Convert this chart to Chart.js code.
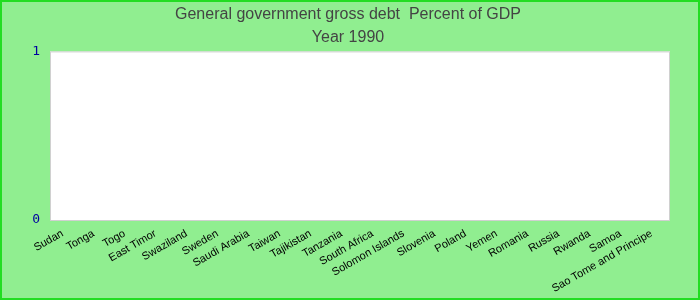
<!DOCTYPE html>
<html>
<head>
<meta charset="utf-8">
<script src="https://cdn.jsdelivr.net/npm/chart.js@4/dist/chart.umd.min.js"></script>
<style>
  html, body { margin: 0; padding: 0; background: #90ee90; }
  #wrap { width: 700px; height: 300px; }
</style>
</head>
<body>
<div id="wrap"><canvas id="debtChart" width="700" height="300"></canvas></div>
<script>
// categories in the order they appear on the x axis
const countries = [
  'Sudan', 'Tonga', 'Togo', 'East Timor', 'Swaziland', 'Sweden', 'Saudi Arabia',
  'Taiwan', 'Tajikistan', 'Tanzania', 'South Africa', 'Solomon Islands', 'Slovenia',
  'Poland', 'Yemen', 'Romania', 'Russia', 'Rwanda', 'Samoa', 'Sao Tome and Principe'
];
// no values reported for 1990 — every bar is empty
const debt1990 = [
  null, null, null, null, null, null, null, null, null, null,
  null, null, null, null, null, null, null, null, null, null
];
const yTicks = [0, 1];

const titleLines = ['General government gross debt  Percent of GDP', 'Year 1990'];

// paints the green page, the white plot area and the outer frame
const frame = {
  id: 'frame',
  beforeDraw(chart) {
    const { ctx, chartArea: a, width, height } = chart;
    ctx.save();
    ctx.fillStyle = '#90ee90';
    ctx.fillRect(0, 0, width, height);
    ctx.fillStyle = '#ffffff';
    ctx.fillRect(a.left, a.top, a.right - a.left, a.bottom - a.top);
    ctx.strokeStyle = '#d0d0d0';
    ctx.lineWidth = 1;
    ctx.strokeRect(a.left + 0.5, a.top + 0.5, a.right - a.left - 1, a.bottom - a.top);
    ctx.strokeStyle = '#22dd22';
    ctx.lineWidth = 2;
    ctx.strokeRect(1, 1, width - 2, height - 2);
    ctx.restore();
  }
};

new Chart(document.getElementById('debtChart'), {
  type: 'bar',
  data: {
    labels: countries,
    datasets: [{
      label: 'Percent of GDP',
      data: debt1990,
      backgroundColor: '#4a7ebb'
    }]
  },
  options: {
    responsive: false,
    animation: false,
    layout: { padding: { left: 26, right: 30, top: 0, bottom: 0 } },
    plugins: {
      legend: { display: false },
      tooltip: { enabled: false },
      title: {
        display: true,
        text: titleLines,
        color: '#444444',
        font: { family: 'Liberation Sans', size: 16, weight: 'normal', lineHeight: 1.45 },
        padding: { top: 3, bottom: 2 }
      }
    },
    scales: {
      x: {
        grid: { display: false, drawTicks: false },
        border: { display: false },
        ticks: {
          autoSkip: false,
          maxRotation: 30,
          minRotation: 30,
          padding: 7,
          labelOffset: -3,
          color: '#000000',
          font: { family: 'Liberation Sans', size: 11 }
        },
        afterFit(scale) { scale.height = 80; }
      },
      y: {
        min: yTicks[0],
        max: yTicks[yTicks.length - 1],
        grid: { display: false, drawTicks: false },
        border: { display: false },
        afterBuildTicks(scale) { scale.ticks = yTicks.map(v => ({ value: v })); },
        ticks: {
          padding: 10,
          color: '#0000a0',
          font: { family: 'DejaVu Sans Mono', size: 13 }
        },
        afterFit(scale) { scale.width = 24; }
      }
    }
  },
  plugins: [frame]
});
</script>
</body>
</html>
